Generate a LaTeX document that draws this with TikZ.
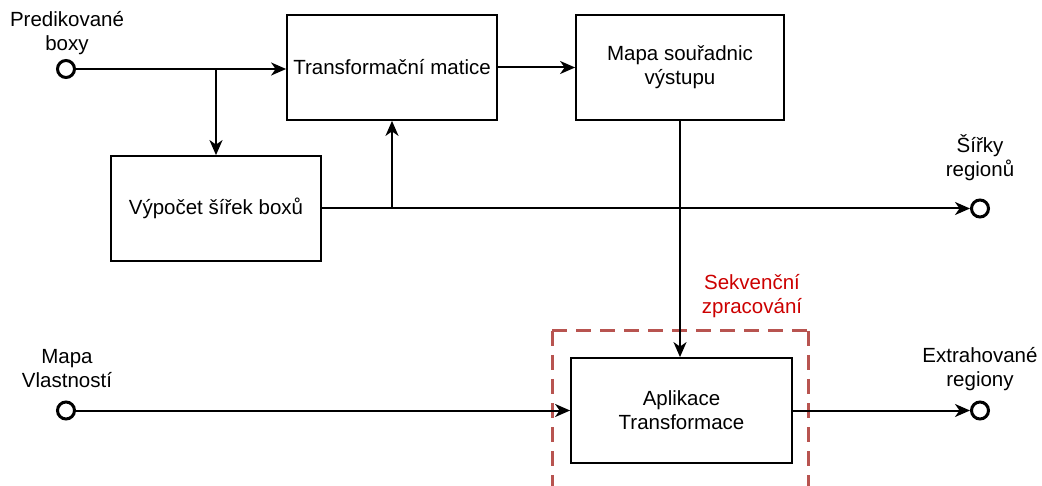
\documentclass[tikz,border=0pt]{standalone}
\usepackage{fontspec}
\setmainfont{Liberation Sans}
\usetikzlibrary{arrows.meta}
\definecolor{groupred}{HTML}{B85450}
\definecolor{notered}{HTML}{CC0000}
\begin{document}
\begin{tikzpicture}[x=1pt,y=-1pt,
  every node/.style={font=\fontsize{20.5}{24}\selectfont},
  box/.style={draw, line width=1.8pt, minimum width=210pt, minimum height=105pt, align=center, inner sep=0pt},
  port/.style={circle, draw, line width=3pt, minimum size=17pt, inner sep=0pt},
  lbl/.style={align=center, inner sep=0pt},
  flow/.style={line width=2pt, -{Stealth[length=15pt,width=13pt,inset=4.5pt]}},
  group/.style={draw=groupred, line width=3pt, dash pattern=on 15pt off 9pt}]
\useasboundingbox (0,0) rectangle (1042,486);

% processing blocks
\node[box] (tm) at (392,67.5) {Transformační matice};
\node[box, minimum width=208pt] (ms) at (680,67.5) {Mapa souřadnic\\výstupu};
\node[box] (vs) at (216,208.5) {Výpočet šířek boxů};
\node[box, minimum width=221pt] (ap) at (681.5,410.5) {Aplikace\\Transformace};

% sequential processing group
\draw[group] (552,331) -- (808,331) (552,331) -- (552,500) (808,331) -- (808,500);
\node[lbl, text=notered] (seq) at (752,296) {Sekvenční\\zpracování};

% inputs and outputs
\node[port] (pb) at (66,69) {};
\node[port] (sr) at (980,208.5) {};
\node[port] (mv) at (66,410.5) {};
\node[port] (er) at (980,410.5) {};
\node[lbl] (pbl) at (67,33.5) {Predikované\\boxy};
\node[lbl] (srl) at (980,158) {Šířky\\regionů};
\node[lbl] (mvl) at (67,369) {Mapa\\Vlastností};
\node[lbl] (erl) at (980,369) {Extrahované\\regiony};

% connections
\draw[flow] (pb) -- (pb -| tm.west);
\draw[flow] (pb -| vs.north) -- (vs.north);
\draw[flow] (vs.east) -- (sr);
\draw[flow] (vs.east -| tm.south) -- (tm.south);
\draw[flow] (tm.east) -- (ms.west);
\draw[flow] (ms.south) -- (ms.south |- ap.north);
\draw[flow] (mv) -- (ap.west);
\draw[flow] (ap.east) -- (er);
\end{tikzpicture}
\end{document}
